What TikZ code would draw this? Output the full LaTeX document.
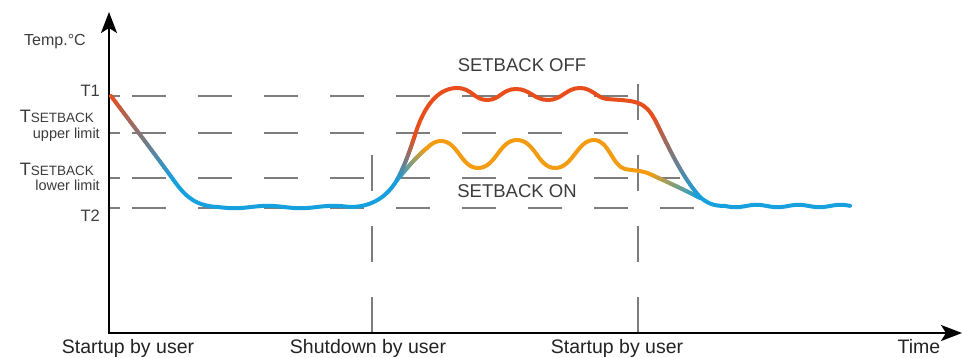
\documentclass[tikz,border=0pt]{standalone}
\usepackage{fontspec}
\setmainfont{Liberation Sans}
\usetikzlibrary{arrows.meta}
\definecolor{cred}{RGB}{232,78,28}
\definecolor{corange}{RGB}{243,156,18}
\definecolor{cblue}{RGB}{22,160,222}
\definecolor{cgrid}{RGB}{125,125,125}
\definecolor{ctext}{RGB}{60,60,60}
\definecolor{cdark}{RGB}{35,35,35}
\newcommand\gradcurve[6]{%
  \foreach \gi in {0,...,29}{%
    \pgfmathsetmacro\gta{\gi/30}%
    \pgfmathsetmacro\gtb{(\gi+1)/30}%
    \pgfmathtruncatemacro\gpc{100-100*(\gi+0.5)/30}%
    \colorlet{gcol}{#5!\gpc!#6}%
    \pgfsetstrokecolor{gcol}%
    \pgfpathcurvebetweentime{\gta}{\gtb}{#1}{#2}{#3}{#4}%
    \pgfusepath{stroke}%
  }%
}
\begin{document}
\begin{tikzpicture}[x=1pt,y=-1pt,
  axis/.style={line width=2.2pt, black, -{Stealth[length=21pt,width=16pt,inset=5pt]}},
  gridl/.style={cgrid, line width=1.3pt},
  gdash/.style={gridl, dash pattern=on 34pt off 32pt},
  vdash/.style={gridl, dash pattern=on 36pt off 35pt},
  curve/.style={line width=4pt, line cap=round, line join=round},
  lbl/.style={text=ctext, inner sep=0pt},
  blbl/.style={text=cdark, inner sep=0pt, anchor=base, font=\fontsize{19.5}{20}\selectfont},
  slbl/.style={text=ctext, inner sep=0pt, anchor=base, font=\fontsize{18.5}{20}\selectfont},
  ]
\useasboundingbox (0,0) rectangle (963,357);
% grid lines
\foreach \yy/\xe in {96/638, 133/660, 178/680, 208/720} {
  \draw[gridl] (109,\yy) -- (120,\yy);
  \draw[gdash] (132,\yy) -- (\xe,\yy);
}
\coordinate (v1b) at (372,333);
\coordinate (v1t) at (372,152);
\coordinate (v2b) at (638,333);
\coordinate (v2t) at (638,82);
\draw[vdash] (v1b) -- (v1t);
\draw[vdash] (v2b) -- (v2t);
% axes
\coordinate (O) at (109,333);
\coordinate (ytip) at (109,12);
\coordinate (xtip) at (962,333);
\draw[axis] (O) -- (ytip);
\draw[axis] ([xshift=-1pt]O) -- (xtip);
% curves
\begin{scope}[curve]
\gradcurve{\pgfpointxy{111}{96}}{\pgfpointxy{132}{124}}{\pgfpointxy{154}{153}}{\pgfpointxy{175}{182}}{cred}{cblue}
\draw[cblue] (175,182) .. controls (186,197) and (196,206) .. (218,207);
\draw[cblue] plot[domain=218:350,samples=80,smooth] (\x,{207+1.2*sin(5.4545*(\x-218))});
\draw[cblue] (350,207) .. controls (368,207) and (385,200) .. (397,180);
% setback on (orange)
\gradcurve{\pgfpointxy{397}{180}}{\pgfpointxy{407}{168}}{\pgfpointxy{418}{155}}{\pgfpointxy{427}{148}}{cblue}{corange}
\draw[corange] (427,148) .. controls (432,143) and (436,141) .. (441,141)
 .. controls (458,141) and (461,168) .. (478,168)
 .. controls (496,168) and (499,140) .. (517,140)
 .. controls (535,140) and (538,168) .. (555,168)
 .. controls (573,168) and (577,140) .. (594,140)
 .. controls (609,140) and (612,166) .. (625,169)
 .. controls (635,171) and (642,170) .. (652,175);
\gradcurve{\pgfpointxy{652}{175}}{\pgfpointxy{665}{181}}{\pgfpointxy{685}{190}}{\pgfpointxy{700}{198}}{corange}{cblue}
% setback off (red)
\gradcurve{\pgfpointxy{397}{180}}{\pgfpointxy{405}{165}}{\pgfpointxy{410}{150}}{\pgfpointxy{415}{135}}{cblue}{cred}
\draw[cred] (415,135) .. controls (422,112) and (435,88) .. (457,88)
 .. controls (472,88) and (474,100) .. (487,100)
 .. controls (500,100) and (502,89) .. (516,89)
 .. controls (530,89) and (534,100) .. (548,100)
 .. controls (562,100) and (566,88) .. (580,88)
 .. controls (592,88) and (597,98) .. (607,99)
 .. controls (618,100) and (630,100) .. (638,103)
 .. controls (646,106) and (650,111) .. (655,120);
\gradcurve{\pgfpointxy{655}{120}}{\pgfpointxy{664}{137}}{\pgfpointxy{680}{175}}{\pgfpointxy{700}{197}}{cred}{cblue}
\draw[cblue] (700,197) .. controls (707,203) and (713,206) .. (725,206);
\draw[cblue] plot[domain=725:850,samples=80,smooth] (\x,{206+1.2*sin(8.5714*(\x-725))});
\end{scope}
% labels
\node[lbl, anchor=base west, font=\fontsize{16}{16}\selectfont] (ylab) at (24,45) {Temp.°C};
\node[lbl, anchor=base east, font=\fontsize{16.5}{16}\selectfont] (t1) at (100,96) {T1};
\node[lbl, anchor=base east] (tsu) at (94,122) {\fontsize{18}{18}\selectfont T\fontsize{13.5}{13.5}\selectfont SETBACK};
\node[lbl, anchor=base east, font=\fontsize{14.5}{14.5}\selectfont] (ul) at (100,138) {upper limit};
\node[lbl, anchor=base east] (tsl) at (94,175) {\fontsize{18}{18}\selectfont T\fontsize{13.5}{13.5}\selectfont SETBACK};
\node[lbl, anchor=base east, font=\fontsize{14.5}{14.5}\selectfont] (ll) at (100,190) {lower limit};
\node[lbl, anchor=base east, font=\fontsize{16.5}{16}\selectfont] (t2) at (100,221) {T2};
\node[slbl] (soff) at (522,71) {SETBACK OFF};
\node[slbl] (son) at (517,197) {SETBACK ON};
\node[blbl] (su1) at (128,353) {Startup by user};
\node[blbl] (sd) at (368,353) {Shutdown by user};
\node[blbl] (su2) at (617,353) {Startup by user};
\node[blbl] (tm) at (919,353) {Time};
\end{tikzpicture}
\end{document}
